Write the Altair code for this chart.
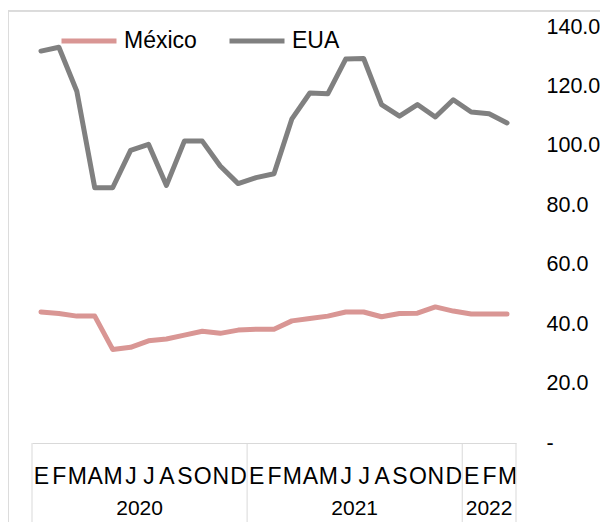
import altair as alt
import pandas as pd

months = ["E", "F", "M", "A", "M", "J", "J", "A", "S", "O", "N", "D",
          "E", "F", "M", "A", "M", "J", "J", "A", "S", "O", "N", "D",
          "E", "F", "M"]
years = ["2020"] * 12 + ["2021"] * 12 + ["2022"] * 3
mexico = [44.1, 43.6, 42.7, 42.7, 31.5, 32.2, 34.4, 35.0, 36.3, 37.6, 36.9, 38.0,
          38.3, 38.3, 41.1, 41.9, 42.7, 44.1, 44.1, 42.5, 43.6, 43.7, 45.8, 44.4,
          43.4, 43.4, 43.4]
eua = [131.9, 133.2, 118.4, 85.9, 85.9, 98.5, 100.5, 86.7, 101.6, 101.6, 93.2, 87.3,
       89.3, 90.6, 109.1, 117.8, 117.5, 129.2, 129.4, 113.9, 110.0, 113.9, 109.7, 115.5,
       111.4, 110.8, 107.7]
series_names = ["México", "EUA"]
series_colors = ["#D99694", "#808080"]
year_labels = ["2020", "2021", "2022"]
year_centers = [5.5, 17.5, 25.0]
separators = [-0.5, 11.5, 23.5, 26.5]

FONT = "Liberation Sans"
W, H = 484, 416
n = len(months)

rows = []
for i in range(n):
    rows.append({"idx": i, "serie": "México", "valor": mexico[i]})
    rows.append({"idx": i, "serie": "EUA", "valor": eua[i]})
df = pd.DataFrame(rows)

label_expr = "[" + ",".join("'%s'" % m for m in months) + "][datum.value]"

xscale = alt.Scale(domain=[-0.5, n - 0.5], nice=False, zero=False)
xaxis = alt.Axis(values=list(range(n)), labelExpr=label_expr, title=None,
                 ticks=False, grid=False, domainColor="#D9D9D9", domainWidth=1,
                 labelFont=FONT, labelFontSize=23, labelColor="#000000",
                 labelPadding=22, labelOverlap=False, labelBound=False,
                 labelFlush=False)

lines = alt.Chart(df).mark_line(strokeWidth=5, strokeJoin="round", strokeCap="round").encode(
    x=alt.X("idx:Q", scale=xscale, axis=xaxis),
    y=alt.Y("valor:Q", scale=alt.Scale(domain=[0, 140], nice=False),
            axis=alt.Axis(orient="right", values=list(range(0, 141, 20)),
                          labelExpr="datum.value == 0 ? '-' : format(datum.value, '.1f')",
                          title=None, ticks=False, domain=False, grid=False,
                          labelAlign="left", labelPadding=30, labelFont=FONT,
                          labelFontSize=21.5, labelColor="#000000")),
    color=alt.Color("serie:N", sort=series_names,
                    scale=alt.Scale(domain=series_names, range=series_colors),
                    legend=alt.Legend(title=None, orient="none", legendX=27, legendY=-16,
                                      direction="horizontal", symbolType="stroke",
                                      symbolSize=3025, symbolStrokeWidth=5,
                                      labelFont=FONT, labelFontSize=23, labelColor="#000000",
                                      labelOffset=5, columnPadding=22, padding=0)),
    order="idx:Q",
)

sep_df = pd.DataFrame({"pos": separators})
seps = alt.Chart(sep_df).mark_rule(color="#D9D9D9", strokeWidth=1).encode(
    x=alt.X("pos:Q", scale=xscale, axis=xaxis),
    y=alt.value(H),
    y2=alt.value(H + 90),
)

yr_df = pd.DataFrame({"year": year_labels, "c": year_centers})
yrs = alt.Chart(yr_df).mark_text(font=FONT, fontSize=21, color="#000000", baseline="middle").encode(
    x=alt.X("c:Q", scale=xscale, axis=xaxis),
    y=alt.value(H + 66),
    text="year:N",
)

border_left = alt.Chart(sep_df).mark_rule(color="#D9D9D9", strokeWidth=1).encode(
    x=alt.value(-24), y=alt.value(-16), y2=alt.value(H + 90))
border_top = alt.Chart(sep_df).mark_rule(color="#D9D9D9", strokeWidth=1).encode(
    x=alt.value(-24), x2=alt.value(W + 100), y=alt.value(-16))

chart = alt.layer(lines, border_left, border_top, seps, yrs).properties(
    width=W, height=H,
    autosize=alt.AutoSizeParams(type="none"),
    padding={"left": 24, "top": 19, "right": 84, "bottom": 79},
).configure_view(stroke=None).configure_axis(labelOverlap=False)

chart.save("out.html", embed_options={"renderer": "svg", "actions": False})
